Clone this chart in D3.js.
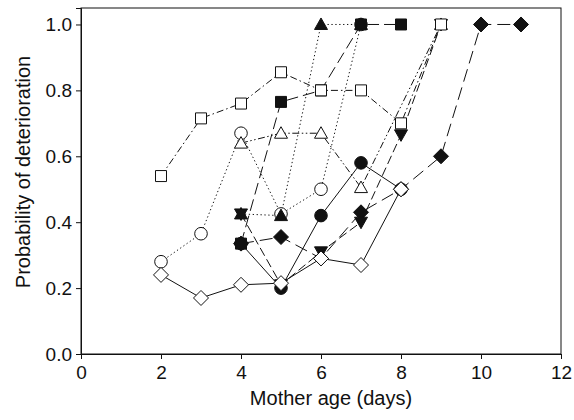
<!DOCTYPE html>
<html>
<head>
<meta charset="utf-8">
<script src="https://cdn.jsdelivr.net/npm/d3@7"></script>
<style>
    html, body { margin: 0; padding: 0; background: #fff; overflow: hidden; }
    svg { display: block; }
    svg text { font-family: "Liberation Sans", Arial, sans-serif; fill: #111; }
</style>
</head>
<body>
<div id="chart"></div>
<script>
// data: mother age (days) vs probability of deterioration
const openDiamondAge = [2, 3, 4, 5, 6, 7, 8];
const openDiamondProb = [0.24, 0.17, 0.21, 0.215, 0.29, 0.27, 0.50];

const filledCircleAge = [4, 5, 6, 7, 8];
const filledCircleProb = [0.335, 0.20, 0.42, 0.58, 0.50];

const openCircleAge = [2, 3, 4, 5, 6, 7];
const openCircleProb = [0.28, 0.365, 0.67, 0.425, 0.50, 1.0];

const filledTriUpAge = [4, 5, 6, 7];
const filledTriUpProb = [0.425, 0.42, 1.0, 1.0];

const filledTriDownAge = [4, 5, 6, 7, 8, 9];
const filledTriDownProb = [0.425, 0.21, 0.31, 0.40, 0.665, 1.0];

const openTriAge = [4, 5, 6, 7, 9];
const openTriProb = [0.64, 0.67, 0.67, 0.505, 1.0];

const openSquareAge = [2, 3, 4, 5, 6, 7, 8, 9];
const openSquareProb = [0.54, 0.715, 0.76, 0.855, 0.80, 0.80, 0.70, 1.0];

const filledSquareAge = [4, 5, 6, 7, 8];
const filledSquareProb = [0.335, 0.765, 0.80, 1.0, 1.0];

const filledDiamondAge = [4, 5, 6, 7, 8, 9, 10, 11];
const filledDiamondProb = [0.335, 0.355, 0.29, 0.43, 0.50, 0.60, 1.0, 1.0];

const xTicks = [0, 2, 4, 6, 8, 10, 12];
const yTicks = [0, 0.2, 0.4, 0.6, 0.8, 1.0];

// drawing order matters where markers overlap
const series = [
    { age: openCircleAge, prob: openCircleProb, shape: "circle", filled: false, dash: "1.3,2.6" },
    { age: filledCircleAge, prob: filledCircleProb, shape: "circle", filled: true, dash: null },
    { age: filledDiamondAge, prob: filledDiamondProb, shape: "diamond", filled: true, dash: "13,6" },
    { age: filledSquareAge, prob: filledSquareProb, shape: "square", filled: true, dash: "12,5" },
    { age: filledTriUpAge, prob: filledTriUpProb, shape: "triUp", filled: true, dash: "1.3,2.6" },
    { age: filledTriDownAge, prob: filledTriDownProb, shape: "triDown", filled: true, dash: "9,4" },
    { age: openTriAge, prob: openTriProb, shape: "triUp", filled: false, dash: "7,2.5,1.5,2.5,1.5,2.5" },
    { age: openSquareAge, prob: openSquareProb, shape: "square", filled: false, dash: "7,3,1.5,3" },
    { age: openDiamondAge, prob: openDiamondProb, shape: "diamond", filled: false, dash: null }
];

const width = 574;
const height = 420;
const margin = { top: 8, right: 13, bottom: 66, left: 81 };
const innerWidth = width - margin.left - margin.right;
const innerHeight = height - margin.top - margin.bottom;

const svg = d3.select("#chart")
    .append("svg")
    .attr("width", width)
    .attr("height", height);

const g = svg.append("g")
    .attr("transform", `translate(${margin.left}, ${margin.top})`);

const x = d3.scaleLinear().domain([0, 12]).range([0, innerWidth]);
const y = d3.scaleLinear().domain([0, 1.05]).range([innerHeight, 0]);

// frame
g.append("rect")
    .attr("width", innerWidth)
    .attr("height", innerHeight)
    .attr("fill", "none")
    .attr("stroke", "#111")
    .attr("stroke-width", 1);

const xAxis = g.append("g")
    .attr("transform", `translate(0, ${innerHeight})`)
    .call(d3.axisBottom(x).tickValues(xTicks).tickSize(5).tickPadding(7).tickFormat(d3.format("d")));

const yAxis = g.append("g")
    .call(d3.axisLeft(y).tickValues(yTicks).tickSize(5).tickPadding(4).tickFormat(d3.format(".1f")));

[xAxis, yAxis].forEach(ax => {
    ax.attr("font-size", 19).attr("font-family", "Liberation Sans, Arial, sans-serif");
    ax.select(".domain").attr("stroke", "#111");
    ax.selectAll(".tick line").attr("stroke", "#111");
    ax.selectAll(".tick text").attr("fill", "#111");
});

function markerPath(shape) {
    if (shape === "circle") return d3.symbol(d3.symbolCircle, Math.PI * 6.3 * 6.3)();
    if (shape === "square") return "M-5.5,-5.5H5.5V5.5H-5.5Z";
    if (shape === "diamond") return "M0,-7.5L7.5,0L0,7.5L-7.5,0Z";
    if (shape === "triUp") return "M0,-6.5L6.5,5L-6.5,5Z";
    return "M0,6.5L6.5,-5L-6.5,-5Z";
}

const line = d3.line()
    .x(d => x(d[0]))
    .y(d => y(d[1]));

// all connecting lines first
series.forEach(s => {
    const pts = s.age.map((a, i) => [a, s.prob[i]]);
    g.append("path")
        .datum(pts)
        .attr("d", line)
        .attr("fill", "none")
        .attr("stroke", "#111")
        .attr("stroke-width", 1)
        .attr("stroke-dasharray", s.dash);
});

// markers on top
series.forEach(s => {
    const pts = s.age.map((a, i) => [a, s.prob[i]]);
    g.selectAll(null)
        .data(pts)
        .enter()
        .append("path")
        .attr("transform", d => `translate(${x(d[0])}, ${y(d[1])})`)
        .attr("d", markerPath(s.shape))
        .attr("fill", s.filled ? "#111" : "#fff")
        .attr("stroke", "#111")
        .attr("stroke-width", 1);
});

svg.append("text")
    .attr("x", 331)
    .attr("y", 405)
    .attr("text-anchor", "middle")
    .attr("font-size", 20)
    .text("Mother age (days)");

svg.append("text")
    .attr("transform", "rotate(-90)")
    .attr("x", -172)
    .attr("y", 30)
    .attr("text-anchor", "middle")
    .attr("font-size", 20)
    .text("Probability of deterioration");
</script>
</body>
</html>
